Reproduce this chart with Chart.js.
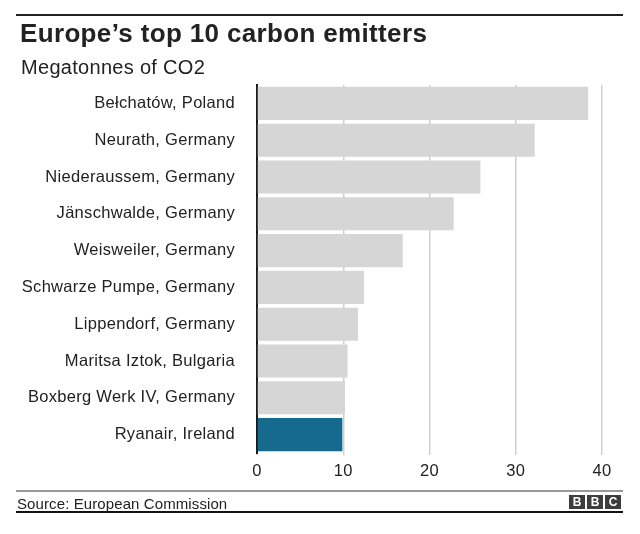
<!DOCTYPE html>
<html>
<head>
<meta charset="utf-8">
<script src="https://cdn.jsdelivr.net/npm/chart.js@4"></script>
<style>
    body { margin: 0; background: #fff; font-family: "Liberation Sans", Arial, sans-serif; color: #222; }
    #wrap { position: relative; width: 640px; height: 534px; overflow: hidden; }
    #emitters { position: absolute; left: 0; top: 0; }
    .rule { position: absolute; left: 16px; width: 607px; }
    .txt { position: absolute; white-space: nowrap; }
    .bbc { position: absolute; top: 495px; width: 16px; height: 14px; background: #3d3d3d; color: #fff;
           font: bold 12px/14px "Liberation Sans", Arial, sans-serif; text-align: center; }
</style>
</head>
<body>
<div id="wrap">
    <canvas id="emitters" width="640" height="534"></canvas>
    <div class="rule" style="top:14px;height:2px;background:#222;"></div>
    <div class="txt" style="left:20px;top:20px;font:bold 26px/26px 'Liberation Sans',Arial,sans-serif;letter-spacing:0.35px;color:#222;">Europe’s top 10 carbon emitters</div>
    <div class="txt" style="left:21px;top:57px;font:20px/20px 'Liberation Sans',Arial,sans-serif;letter-spacing:0.3px;color:#222;">Megatonnes of CO2</div>
    <div class="rule" style="top:490px;height:2px;background:#999;"></div>
    <div class="txt" style="left:17px;top:496px;font:15px/15px 'Liberation Sans',Arial,sans-serif;letter-spacing:0.1px;color:#222;">Source: European Commission</div>
    <div class="bbc" style="left:569px;">B</div>
    <div class="bbc" style="left:587px;">B</div>
    <div class="bbc" style="left:605px;">C</div>
    <div class="rule" style="top:511px;height:2px;background:#111;"></div>
</div>
<script>
const categories = [
    "Bełchatów, Poland",
    "Neurath, Germany",
    "Niederaussem, Germany",
    "Jänschwalde, Germany",
    "Weisweiler, Germany",
    "Schwarze Pumpe, Germany",
    "Lippendorf, Germany",
    "Maritsa Iztok, Bulgaria",
    "Boxberg Werk IV, Germany",
    "Ryanair, Ireland",
];
const emissions = [38.4, 32.2, 25.9, 22.8, 16.9, 12.4, 11.7, 10.5, 10.2, 9.9];
const xTickValues = [0, 10, 20, 30, 40];
const highlighted = "Ryanair, Ireland";

(function renderEmittersChart() {
    const canvas = document.getElementById("emitters");
    if (!canvas || typeof Chart === "undefined") {
        return;
    }

    // widen text a little, the source lettering is broader than Arial
    const spacing = {
        id: "spacing",
        beforeDraw(chart) { chart.ctx.letterSpacing = "0.3px"; },
        afterDraw(chart) { chart.ctx.letterSpacing = "0px"; },
    };

    new Chart(canvas.getContext("2d"), {
        type: "bar",
        data: {
            labels: categories,
            datasets: [
                {
                    data: emissions,
                    backgroundColor: categories.map((c) => (c === highlighted ? "#156a8e" : "#d6d6d6")),
                    borderWidth: 0,
                    barPercentage: 0.9,
                    categoryPercentage: 1,
                },
            ],
        },
        plugins: [spacing],
        options: {
            indexAxis: "y",
            responsive: false,
            animation: false,
            devicePixelRatio: 1,
            layout: {
                padding: { top: 85, left: 0, right: 38, bottom: 51 },
            },
            plugins: {
                legend: { display: false },
                tooltip: { enabled: false },
            },
            scales: {
                x: {
                    min: xTickValues[0],
                    max: xTickValues[xTickValues.length - 1],
                    afterBuildTicks(scale) {
                        scale.ticks = xTickValues.map((v) => ({ value: v }));
                    },
                    afterFit(scale) { scale.height = 30; },
                    grid: {
                        color: "#cfcfcf",
                        lineWidth: 1.5,
                        drawTicks: true,
                        tickLength: 2,
                        tickColor: "#cfcfcf",
                    },
                    border: { display: false },
                    ticks: {
                        color: "#222",
                        padding: 7,
                        font: { family: "'Liberation Sans', Arial, sans-serif", size: 16.5 },
                    },
                },
                y: {
                    afterFit(scale) { scale.width = 257; },
                    grid: { display: false, drawTicks: false },
                    border: { display: true, color: "#1a1a1a", width: 2 },
                    ticks: {
                        color: "#222",
                        padding: 22,
                        font: { family: "'Liberation Sans', Arial, sans-serif", size: 16.5 },
                    },
                },
            },
        },
    });
})();
</script>
</body>
</html>
